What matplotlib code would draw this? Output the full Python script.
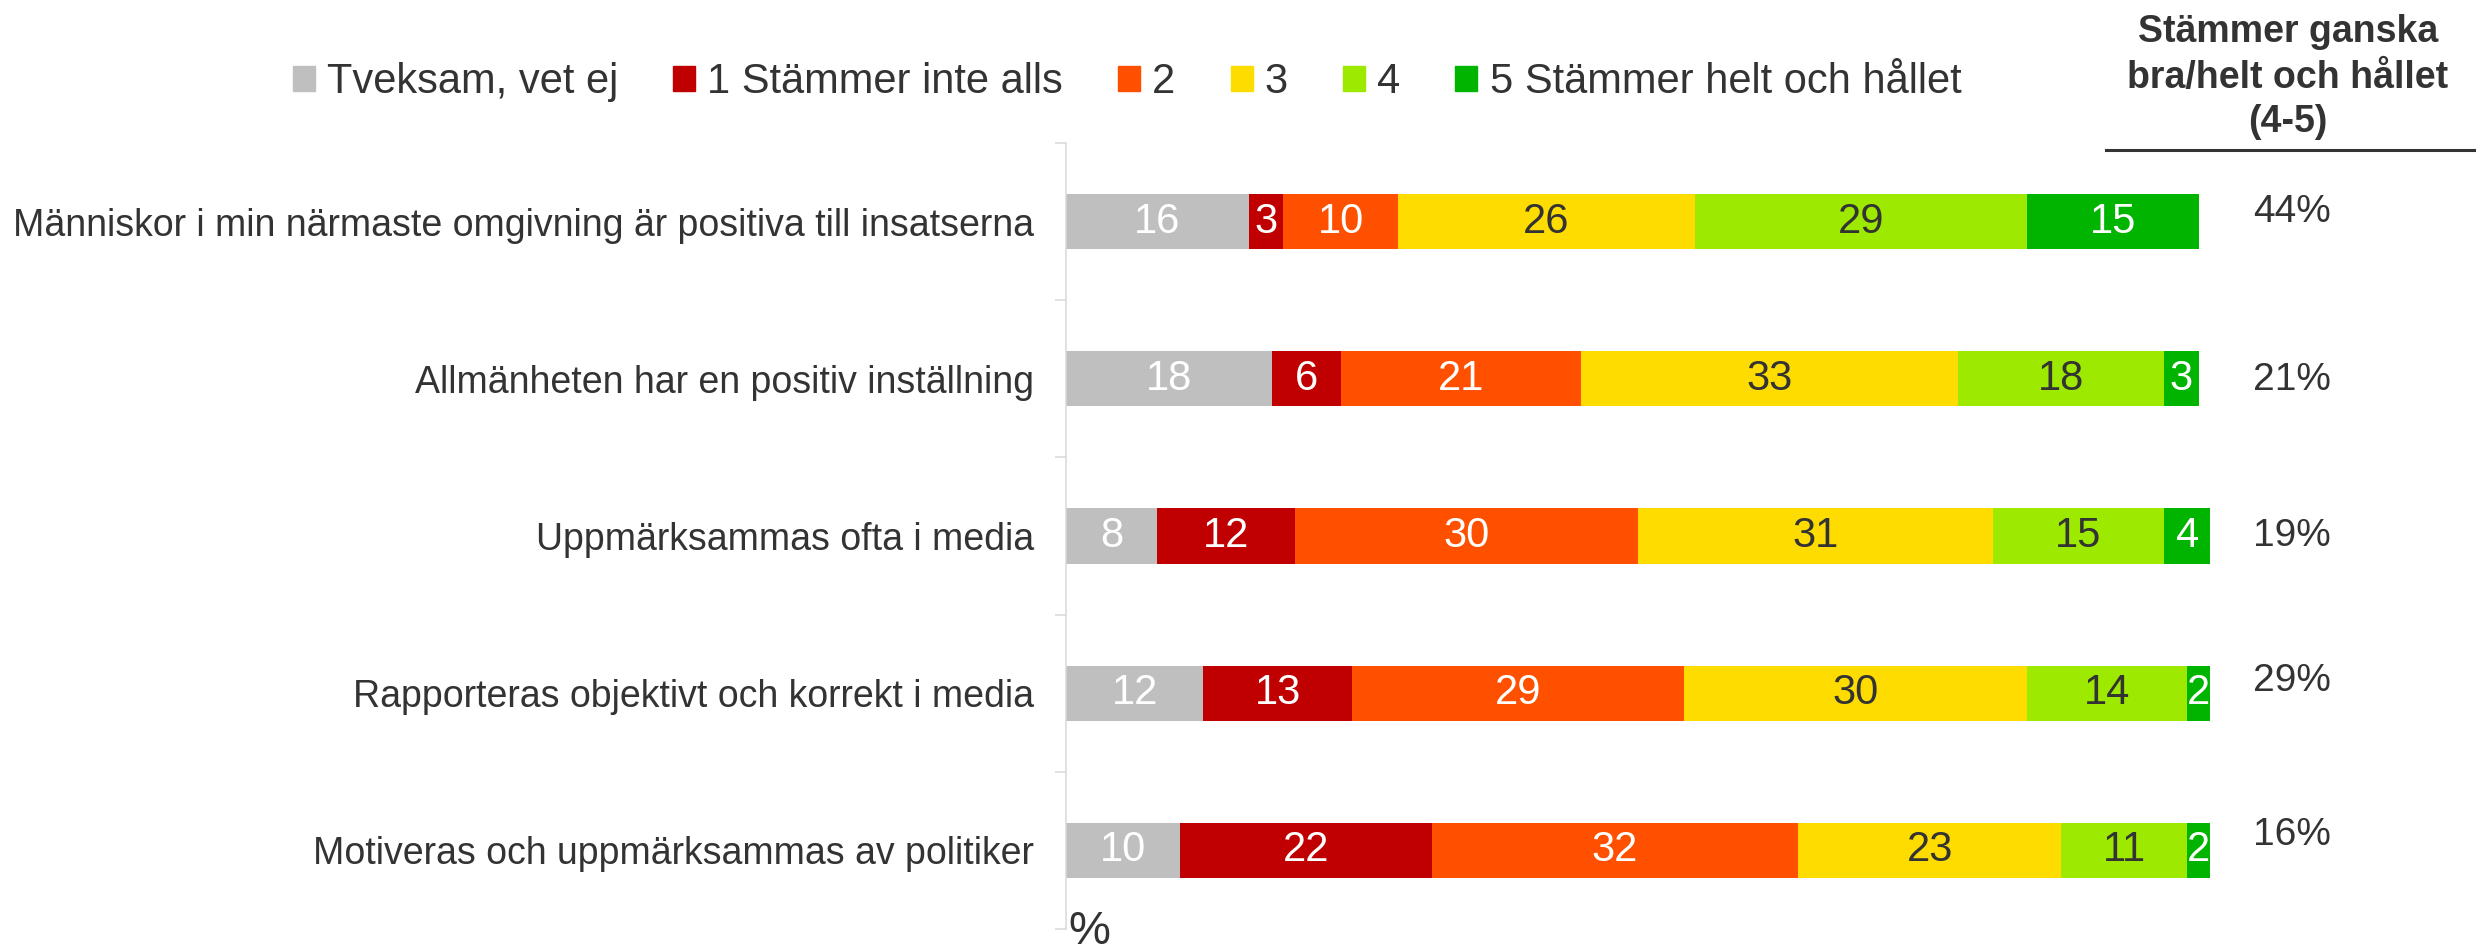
import numpy as np
from matplotlib import pyplot as plt
from matplotlib import font_manager as fm
from matplotlib import transforms
from matplotlib.patches import Patch

plt.rcParams['font.family'] = ['Liberation Sans', 'DejaVu Sans']

# the bold lookup can land on "Liberation Sans Narrow", so take the file itself
bold_file = [f for f in fm.findSystemFonts() if f.endswith('LiberationSans-Bold.ttf')]
bold = fm.FontProperties(fname=bold_file[0]) if bold_file else fm.FontProperties(family='DejaVu Sans', weight='bold')

# data
categories = ["Människor i min närmaste omgivning är positiva till insatserna",
              "Allmänheten har en positiv inställning",
              "Uppmärksammas ofta i media",
              "Rapporteras objektivt och korrekt i media",
              "Motiveras och uppmärksammas av politiker"]
series_names = ["Tveksam, vet ej", "1 Stämmer inte alls", "2", "3", "4",
                "5 Stämmer helt och hållet"]
tveksam = [16, 18, 8, 12, 10]
s1 = [3, 6, 12, 13, 22]
s2 = [10, 21, 30, 29, 32]
s3 = [26, 33, 31, 30, 23]
s4 = [29, 18, 15, 14, 11]
s5 = [15, 3, 4, 2, 2]
summa_45 = [44, 21, 19, 29, 16]
header_lines = ["Stämmer ganska", "bra/helt och hållet", "(4-5)"]

colors = ["#BFBFBF", "#C00000", "#FF5000", "#FFDC00", "#9DEA00", "#00B400"]
txt_cols = ["white", "white", "white", "#333333", "#333333", "white"]
dark = "#333333"
pct_nudge = [-0.06, 0.01, 0.0, -0.08, -0.10]

fig = plt.figure(figsize=(24.76, 9.49), dpi=100)
ax = fig.add_axes([0.4305, 0.0211, 0.4621, 0.8282])

y = np.arange(len(categories))
left = np.zeros(len(categories))
for vals, name, c, tc in zip([tveksam, s1, s2, s3, s4, s5], series_names, colors, txt_cols):
    vals = np.array(vals)
    ax.barh(y, vals, left=left, height=0.35, color=c, label=name)
    for yi, v, l in zip(y, vals, left):
        ax.text(l + v / 2, yi, str(v), ha='center', va='center', color=tc, fontsize=30)
    left = left + vals

ax.set_xlim(0, 100)
ax.set_ylim(4.5, -0.5)
ax.set_yticks(y)
ax.set_yticklabels(categories, fontsize=27, color=dark)
ax.tick_params(axis='y', which='major', length=0, pad=23)
ax.set_yticks(np.arange(-0.5, 5, 1), minor=True)
ax.tick_params(axis='y', which='minor', length=8, width=1.1, color='#D9D9D9')
ax.set_xticks([])
for s in ['top', 'right', 'bottom']:
    ax.spines[s].set_visible(False)
ax.spines['left'].set_color('#D9D9D9')
ax.spines['left'].set_linewidth(1.1)

# right column: share 4-5
xc = 2292 / 2476
tr = transforms.blended_transform_factory(fig.transFigure, ax.transData)
for yi, p, n in zip(y, summa_45, pct_nudge):
    ax.text(xc, yi + n, f"{p}%", transform=tr, ha='center', va='center',
            fontsize=28, color=dark, clip_on=False)

for line, base in zip(header_lines, [42, 88, 132]):
    fig.text(2288 / 2476, 1 - base / 949, line, ha='center', va='baseline',
             fontproperties=bold, fontsize=27, color=dark)
fig.add_artist(plt.Line2D([2106 / 2476, 1.0], [1 - 150 / 949] * 2, color=dark, lw=2.2,
                          transform=fig.transFigure))

fig.text(1068 / 2476, 1 - 910 / 949, "%", ha='left', va='top', fontsize=34, color=dark)

handles = [Patch(color=c) for c in colors]
fig.legend(handles, series_names, loc='center', bbox_to_anchor=(1127 / 2476, 1 - 82 / 949),
           ncol=6, frameon=False, fontsize=30, handlelength=0.53, handleheight=0.53,
           handletextpad=0.29, columnspacing=1.32, labelcolor=dark, borderaxespad=0, borderpad=0)

plt.savefig('out.png', dpi=100)
